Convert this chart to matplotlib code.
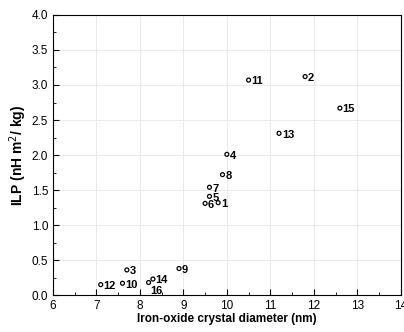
import matplotlib.pyplot as plt
from matplotlib.ticker import MultipleLocator

plt.rcParams['font.family'] = ['Liberation Sans', 'DejaVu Sans']

# sample id, crystal diameter (nm), ILP
ids = ['1', '2', '3', '4', '5', '6', '7', '8', '9', '10', '11', '12', '13', '14', '15', '16']
diameter = [9.8, 11.8, 7.7, 10.0, 9.6, 9.5, 9.6, 9.9, 8.9, 7.6, 10.5, 7.1, 11.2, 8.3, 12.6, 8.2]
ilp = [1.32, 3.12, 0.36, 2.01, 1.41, 1.31, 1.54, 1.72, 0.38, 0.17, 3.07, 0.15, 2.31, 0.23, 2.67, 0.18]

fig = plt.figure(figsize=(4.04, 3.32), dpi=100)
ax = fig.add_axes([0.131, 0.111, 0.861, 0.844])

ax.scatter(diameter, ilp, s=8, facecolors='none', edgecolors='black', linewidths=0.9, zorder=3)

for name, x, y in zip(ids, diameter, ilp):
    dx, dy = 2, -1
    if name == '16':
        dx, dy = 1.5, -6
    ax.annotate(name, (x, y), xytext=(dx, dy), textcoords='offset points',
                ha='left', va='center', fontsize=8, fontweight='bold')

ax.set_xlim(6, 14)
ax.set_ylim(0, 4.0)
ax.xaxis.set_major_locator(MultipleLocator(1))
ax.xaxis.set_minor_locator(MultipleLocator(0.5))
ax.yaxis.set_major_locator(MultipleLocator(0.5))
ax.yaxis.set_minor_locator(MultipleLocator(0.25))
ax.set_yticklabels([f'{v:.1f}' for v in ax.get_yticks()])
ax.tick_params(which='both', direction='in', labelsize=8.5)
ax.tick_params(which='major', length=4)
ax.tick_params(which='minor', length=2)
ax.grid(True, which='major', color='#e6e6e6', linewidth=0.6)
ax.set_axisbelow(True)

ax.set_xlabel('Iron-oxide crystal diameter (nm)', fontsize=8.5, fontweight='bold', labelpad=1)
ax.set_ylabel('ILP (nH m$^2$/ kg)', fontsize=10, fontweight='bold', labelpad=2)

fig.savefig('out.png', dpi=100)
